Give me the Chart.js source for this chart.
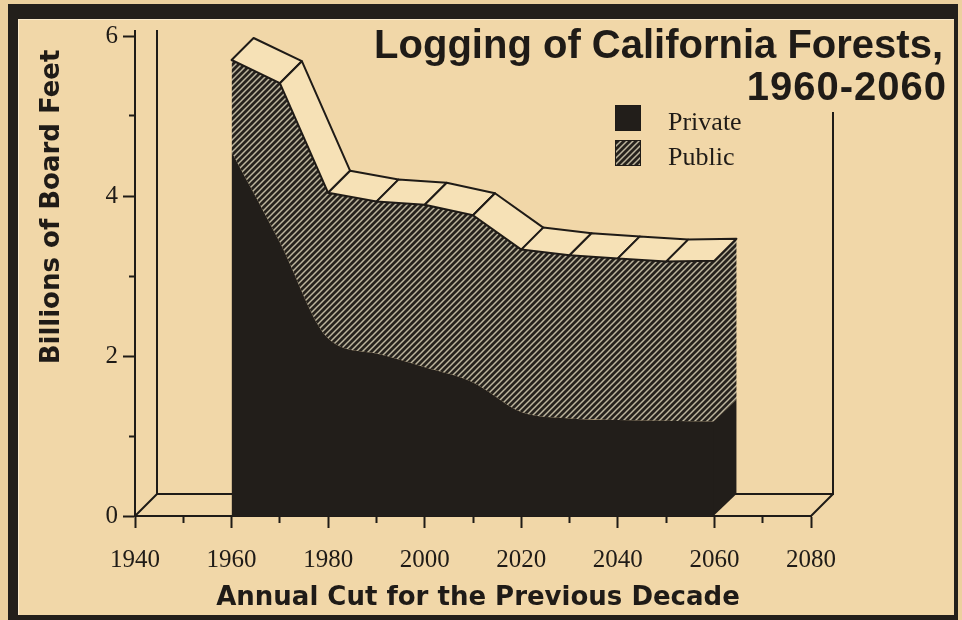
<!DOCTYPE html>
<html>
<head>
<meta charset="utf-8">
<title>Logging of California Forests, 1960-2060</title>
<script src="https://cdn.jsdelivr.net/npm/chart.js@4.4.1/dist/chart.umd.min.js"></script>
<style>
  html, body { margin: 0; padding: 0; background: #ecd09e; }
  #frame {
    position: absolute; left: 8px; top: 4px; width: 936px; height: 596px;
    border-style: solid; border-color: #231f1b; border-width: 15px 4px 5px 10px;
    background: #f1d7a8; box-shadow: inset 1px 1px 0 #fbeacb;
  }
  #chart { position: absolute; left: 0; top: 0; }
</style>
</head>
<body>
<div id="frame"></div>
<canvas id="chart" width="962" height="620"></canvas>
<script>
// Data (billions of board feet, annual cut for previous decade)
const years = [1960, 1970, 1980, 1990, 2000, 2010, 2020, 2030, 2040, 2050, 2060];
const privateCut = [4.55, 3.42, 2.22, 2.03, 1.86, 1.67, 1.30, 1.22, 1.20, 1.19, 1.18];
const publicCut = [1.15, 1.99, 1.82, 1.90, 2.03, 2.09, 2.03, 2.04, 2.02, 1.99, 2.01];
const seriesNames = ['Private', 'Public'];

const xTicks = [1940, 1960, 1980, 2000, 2020, 2040, 2060, 2080];
const yTicks = [0, 2, 4, 6];

const chartTitle = ['Logging of California Forests,', '1960-2060'];
const xTitle = 'Annual Cut for the Previous Decade';
const yTitle = 'Billions of Board Feet';

// Style
const INK = '#1f1b17';
const DARK = '#221e1a';
const LIGHT = '#f6e1b6';
const DEPTH = 22;
const SERIF = '"Liberation Serif", "Times New Roman", serif';

function makeHatch() {
  const c = document.createElement('canvas');
  c.width = 6; c.height = 6;
  const g = c.getContext('2d');
  g.fillStyle = '#26221d';
  g.fillRect(0, 0, 6, 6);
  g.strokeStyle = '#bdb59e';
  g.lineWidth = 1.5;
  g.beginPath();
  g.moveTo(-1, 7); g.lineTo(7, -1);
  g.moveTo(-1, 1); g.lineTo(1, -1);
  g.moveTo(5, 7); g.lineTo(7, 5);
  g.stroke();
  return g.createPattern(c, 'repeat');
}
const hatch = makeHatch();

function poly(ctx, pts) {
  ctx.beginPath();
  ctx.moveTo(pts[0][0], pts[0][1]);
  pts.slice(1).forEach(p => ctx.lineTo(p[0], p[1]));
  ctx.closePath();
}

// 3D walls, top band, side face, titles and legend
const depth3d = {
  id: 'depth3d',
  beforeDatasetsDraw(chart) {
    const { ctx, chartArea: a, scales: { y } } = chart;
    const top = y.getPixelForValue(6) - 6;
    const wallTop = y.getPixelForValue(5.05);
    ctx.save();
    ctx.strokeStyle = INK;
    ctx.lineWidth = 2;
    ctx.beginPath();
    ctx.moveTo(a.left, a.top); ctx.lineTo(a.left, top);
    ctx.moveTo(a.left + DEPTH, top);
    ctx.lineTo(a.left + DEPTH, a.bottom - DEPTH);
    ctx.lineTo(a.right + DEPTH, a.bottom - DEPTH);
    ctx.lineTo(a.right + DEPTH, wallTop);
    ctx.moveTo(a.left, a.bottom); ctx.lineTo(a.left + DEPTH, a.bottom - DEPTH);
    ctx.moveTo(a.right, a.bottom); ctx.lineTo(a.right + DEPTH, a.bottom - DEPTH);
    ctx.stroke();
    ctx.restore();
  },
  afterDatasetsDraw(chart) {
    const { ctx, scales: { y } } = chart;
    const priv = chart.getDatasetMeta(0).data;
    const pub = chart.getDatasetMeta(1).data;
    const n = pub.length - 1;
    const base = y.getPixelForValue(0);
    const p = pub[n], q = priv[n];
    const sx = q.x - 1; // overlap the front face a little to hide the seam
    ctx.save();
    // right side face
    ctx.fillStyle = hatch;
    poly(ctx, [[sx, p.y], [p.x + DEPTH, p.y - DEPTH], [q.x + DEPTH, q.y - DEPTH], [sx, q.y]]);
    ctx.fill();
    ctx.fillStyle = DARK;
    poly(ctx, [[sx, q.y], [q.x + DEPTH, q.y - DEPTH], [q.x + DEPTH, base - DEPTH], [sx, base]]);
    ctx.fill();
    // top band
    ctx.strokeStyle = INK;
    ctx.lineWidth = 2;
    ctx.lineJoin = 'round';
    for (let i = 0; i < n; i++) {
      const a = pub[i], b = pub[i + 1];
      poly(ctx, [[a.x, a.y], [b.x, b.y], [b.x + DEPTH, b.y - DEPTH], [a.x + DEPTH, a.y - DEPTH]]);
      ctx.fillStyle = LIGHT;
      ctx.fill();
      ctx.stroke();
    }
    ctx.restore();
  },
  afterDraw(chart) {
    const { ctx, chartArea: a } = chart;
    ctx.save();
    ctx.fillStyle = INK;

    // main title
    ctx.font = 'bold 40px "Liberation Sans", Arial, sans-serif';
    ctx.textAlign = 'right';
    ctx.textBaseline = 'alphabetic';
    ctx.fillText(chartTitle[0], 943, 58);
    ctx.letterSpacing = '1px';
    ctx.fillText(chartTitle[1], 947, 100);
    ctx.letterSpacing = '0px';

    // axis titles
    ctx.font = 'bold 26px "DejaVu Sans", sans-serif';
    ctx.textAlign = 'center';
    ctx.textBaseline = 'middle';
    ctx.fillText(xTitle, (a.left + a.right) / 2 + 5, 598);
    ctx.save();
    ctx.translate(52, 207);
    ctx.rotate(-Math.PI / 2);
    ctx.fillText(yTitle, 0, 0);
    ctx.restore();

    // legend
    ctx.font = '26px ' + SERIF;
    ctx.textAlign = 'left';
    ctx.textBaseline = 'alphabetic';
    chart.data.datasets.forEach((ds, i) => {
      const top = 105 + i * 35;
      ctx.fillStyle = ds.backgroundColor;
      ctx.fillRect(615, top, 26, 26);
      ctx.strokeStyle = INK;
      ctx.lineWidth = 1;
      ctx.strokeRect(615.5, top + 0.5, 25, 25);
      ctx.fillStyle = INK;
      ctx.fillText(ds.label, 668, top + 25);
    });
    ctx.restore();
  }
};

const isMajor = (list, v) => list.includes(v);

new Chart(document.getElementById('chart'), {
  type: 'line',
  data: {
    datasets: [
      {
        label: seriesNames[0],
        data: years.map((yr, i) => ({ x: yr, y: privateCut[i] })),
        backgroundColor: DARK,
        fill: 'origin',
        cubicInterpolationMode: 'monotone',
        borderWidth: 0,
        pointRadius: 0
      },
      {
        label: seriesNames[1],
        data: years.map((yr, i) => ({ x: yr, y: publicCut[i] })),
        backgroundColor: hatch,
        fill: '-1',
        tension: 0,
        borderWidth: 0,
        pointRadius: 0
      }
    ]
  },
  options: {
    responsive: false,
    animation: false,
    events: [],
    layout: { padding: { left: 95, top: 36, right: 151, bottom: 44 } },
    plugins: {
      legend: { display: false },
      title: { display: false },
      tooltip: { enabled: false }
    },
    scales: {
      x: {
        type: 'linear',
        min: 1940,
        max: 2080,
        afterFit: s => { s.height = 60; },
        border: { color: INK, width: 2 },
        grid: {
          drawOnChartArea: false,
          color: INK,
          tickLength: 12,
          tickWidth: 2,
          tickBorderDash: c => isMajor(xTicks, c.tick.value) ? [] : [6, 30]
        },
        ticks: {
          stepSize: 10,
          autoSkip: false,
          maxRotation: 0,
          padding: 17,
          color: INK,
          font: { family: SERIF, size: 25 },
          callback: v => isMajor(xTicks, v) ? String(v) : ''
        }
      },
      y: {
        min: 0,
        max: 6,
        stacked: true,
        afterFit: s => { s.width = 40; },
        border: { color: INK, width: 2 },
        grid: {
          drawOnChartArea: false,
          color: INK,
          tickLength: 12,
          tickWidth: 2,
          tickBorderDash: c => isMajor(yTicks, c.tick.value) ? [] : [6, 6],
          tickBorderDashOffset: c => isMajor(yTicks, c.tick.value) ? 0 : 6
        },
        ticks: {
          stepSize: 1,
          padding: 5,
          color: INK,
          font: { family: SERIF, size: 25 },
          callback: v => isMajor(yTicks, v) ? String(v) : ''
        }
      }
    }
  },
  plugins: [depth3d]
});
</script>
</body>
</html>
